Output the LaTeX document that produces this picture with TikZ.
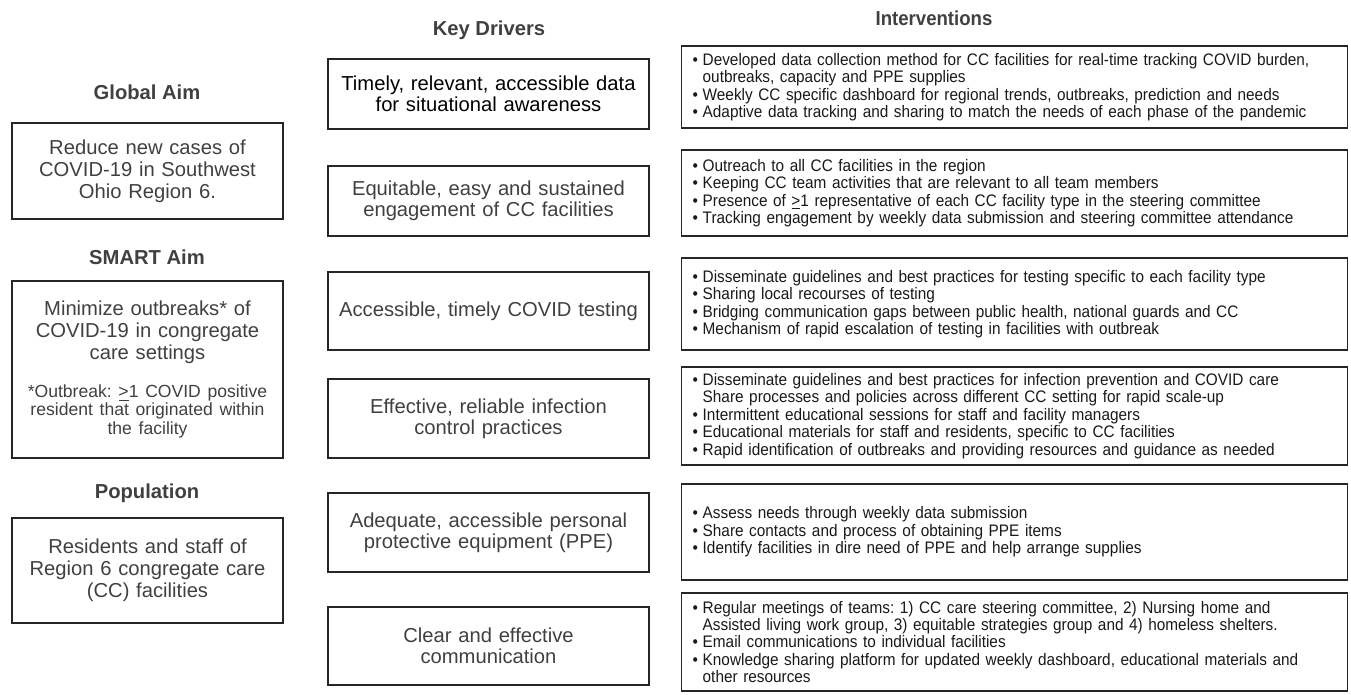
\documentclass[tikz,border=0pt]{standalone}
\usepackage{fontspec}
\setmainfont{Liberation Sans}
\newfontfamily\narrowfont[FakeStretch=0.92]{Liberation Sans}
\definecolor{txtgray}{HTML}{404040}
\definecolor{framecol}{HTML}{262626}
\newcommand{\bitem}[1]{\makebox[0.2cm][l]{\textbullet}#1}
\newcommand{\cont}[1]{\hspace*{0.2cm}#1}
\frenchspacing
\begin{document}
\begin{tikzpicture}[x=0.02cm, y=-0.02cm,
    head/.style={font=\fontsize{11.5}{12.5}\selectfont\bfseries, text=txtgray},
    aimbox/.style={draw=framecol, line width=0.8pt, text width=5.2cm, minimum width=5.42cm, align=center, inner sep=0pt, text=txtgray, font=\fontsize{11.5}{12.4}\selectfont},
    drvbox/.style={draw=framecol, line width=0.8pt, text width=6.2cm, minimum width=6.42cm, align=center, inner sep=0pt, text=txtgray, font=\fontsize{11.5}{12.2}\selectfont},
    intbox/.style={draw=framecol, line width=0.8pt, anchor=west, text width=12.88cm, align=left, inner xsep=0.22cm, inner ysep=0pt, text=black!90, font=\narrowfont\fontsize{9.5}{9.9}\selectfont}
]
\useasboundingbox (0,0) rectangle (1351,695);

% Column headings
\node[head] (hglobal) at (147,92) {Global Aim};
\node[head] (hsmart) at (147,257) {SMART Aim};
\node[head] (hpop) at (147,493) {Population};
\node[head] (hdrivers) at (489,30) {Key Drivers};
\node[head, font=\narrowfont\fontsize{11.5}{12.5}\selectfont\bfseries] (hint) at (934,18) {Interventions};

% Aim boxes on the left
\node[aimbox, minimum height=1.92cm] (global) at (147.5,171) {Reduce new cases of\\COVID-19 in Southwest\\Ohio Region 6.};
\node[aimbox, minimum height=3.54cm] (smart) at (147.5,369.5) {Minimize outbreaks* of\\COVID-19 in congregate\\care settings\par\vspace{11pt}
    \parbox{5.2cm}{\centering\fontsize{10}{10.4}\selectfont *Outbreak: \underline{>}1 COVID positive\\resident that originated within\\the facility}};
\node[aimbox, minimum height=2.1cm] (pop) at (147.5,570.5) {Residents and staff of\\Region 6 congregate care\\(CC) facilities};

% Key driver boxes
\node[drvbox, minimum height=1.4cm, text=black] (d1) at (488.5,94) {Timely, relevant, accessible data\\for situational awareness};
\node[drvbox, minimum height=1.4cm] (d2) at (488.5,201) {Equitable, easy and sustained\\engagement of CC facilities};
\node[drvbox, minimum height=1.56cm] (d3) at (488.5,311) {Accessible, timely COVID testing};
\node[drvbox, minimum height=1.58cm] (d4) at (488.5,418.5) {Effective, reliable infection\\control practices};
\node[drvbox, minimum height=1.58cm] (d5) at (488.5,532.5) {Adequate, accessible personal\\protective equipment (PPE)};
\node[drvbox, minimum height=1.56cm] (d6) at (488.5,646) {Clear and effective\\communication};

% Intervention boxes
\node[intbox, minimum height=1.64cm] (i1) at (681,87) {%
    \bitem{Developed data collection method for CC facilities for real-time tracking COVID burden,}\\
    \cont{outbreaks, capacity and PPE supplies}\\
    \bitem{Weekly CC specific dashboard for regional trends, outbreaks, prediction and needs}\\
    \bitem{Adaptive data tracking and sharing to match the needs of each phase of the pandemic}};
\node[intbox, minimum height=1.72cm] (i2) at (681,193) {%
    \bitem{Outreach to all CC facilities in the region}\\
    \bitem{Keeping CC team activities that are relevant to all team members}\\
    \bitem{Presence of \underline{>}1 representative of each CC facility type in the steering committee}\\
    \bitem{Tracking engagement by weekly data submission and steering committee attendance}};
\node[intbox, minimum height=1.84cm] (i3) at (681,304) {%
    \bitem{Disseminate guidelines and best practices for testing specific to each facility type}\\
    \bitem{Sharing local recourses of testing}\\
    \bitem{Bridging communication gaps between public health, national guards and CC}\\
    \bitem{Mechanism of rapid escalation of testing in facilities with outbreak}};
\node[intbox, minimum height=1.96cm] (i4) at (681,416) {%
    \bitem{Disseminate guidelines and best practices for infection prevention and COVID care}\\
    \cont{Share processes and policies across different CC setting for rapid scale-up}\\
    \bitem{Intermittent educational sessions for staff and facility managers}\\
    \bitem{Educational materials for staff and residents, specific to CC facilities}\\
    \bitem{Rapid identification of outbreaks and providing resources and guidance as needed}};
\node[intbox, minimum height=1.92cm] (i5) at (681,532) {%
    \bitem{Assess needs through weekly data submission}\\
    \bitem{Share contacts and process of obtaining PPE items}\\
    \bitem{Identify facilities in dire need of PPE and help arrange supplies}};
\node[intbox, minimum height=1.96cm] (i6) at (681,642) {%
    \bitem{Regular meetings of teams: 1) CC care steering committee, 2) Nursing home and}\\
    \cont{Assisted living work group, 3) equitable strategies group and 4) homeless shelters.}\\
    \bitem{Email communications to individual facilities}\\
    \bitem{Knowledge sharing platform for updated weekly dashboard, educational materials and}\\
    \cont{other resources}};
\end{tikzpicture}
\end{document}
